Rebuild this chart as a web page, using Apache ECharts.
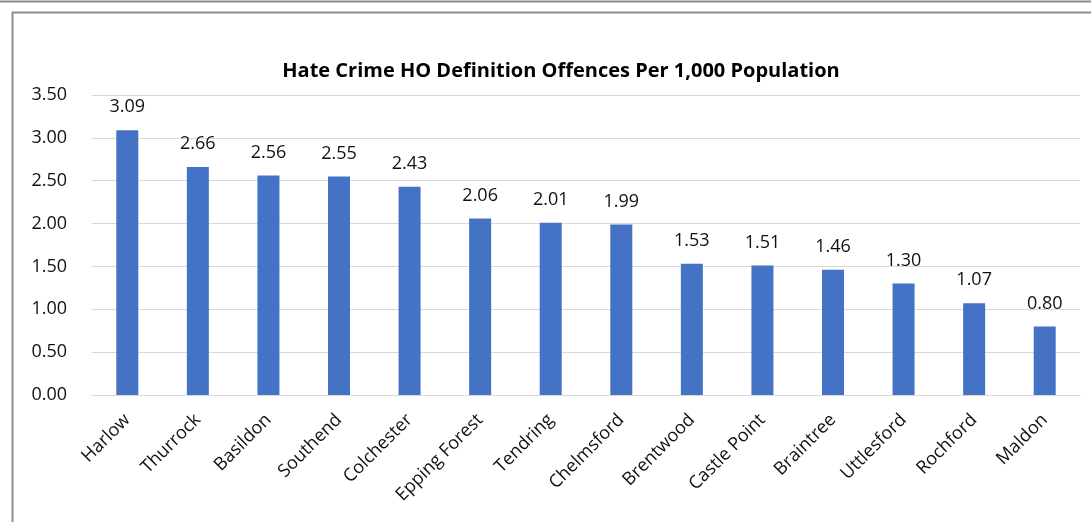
<!DOCTYPE html>
<html><head><meta charset="utf-8">
<script src="https://cdn.jsdelivr.net/npm/echarts@6/dist/echarts.min.js"></script>
<style>html,body{margin:0;padding:0;background:#fff}#c{width:1091px;height:522px}</style>
</head><body><div id="c"></div>
<script>
const titleText = 'Hate Crime HO Definition Offences Per 1,000 Population';
const categories = ['Harlow','Thurrock','Basildon','Southend','Colchester','Epping Forest','Tendring','Chelmsford','Brentwood','Castle Point','Braintree','Uttlesford','Rochford','Maldon'];
const values = [3.09,2.66,2.56,2.55,2.43,2.06,2.01,1.99,1.53,1.51,1.46,1.30,1.07,0.80];
const yTicks = {min:0, max:3.5, interval:0.5};

const font = '"Open Sans", "Noto Sans", sans-serif';
const chart = echarts.init(document.getElementById('c'));
chart.setOption({
  animation:false,
  backgroundColor:'#fff',
  title:{text:titleText,left:556,top:56,textAlign:'center',
    textStyle:{fontFamily:font,fontSize:20,fontWeight:'bold',color:'#000'}},
  graphic:[
    {type:'line',shape:{x1:0,y1:1.5,x2:1091,y2:1.5},style:{stroke:'#8c8c8c',lineWidth:2}},
    {type:'line',shape:{x1:12,y1:12.5,x2:1091,y2:12.5},style:{stroke:'#8c8c8c',lineWidth:2}},
    {type:'line',shape:{x1:12.5,y1:12,x2:12.5,y2:522},style:{stroke:'#8c8c8c',lineWidth:2}}
  ],
  grid:{left:92,right:11,top:95,bottom:127,containLabel:false},
  xAxis:{type:'category',data:categories,
    axisLine:{lineStyle:{color:'#d9d9d9',width:1}},
    axisTick:{show:false},
    axisLabel:{rotate:45,interval:0,margin:22,fontFamily:font,fontSize:18,color:'#111'}},
  yAxis:{type:'value',min:yTicks.min,max:yTicks.max,interval:yTicks.interval,
    axisLine:{show:false},axisTick:{show:false},
    splitLine:{lineStyle:{color:'#d9d9d9',width:1}},
    axisLabel:{margin:25,fontFamily:font,fontSize:18,color:'#111',formatter:v=>v.toFixed(2)}},
  series:[{type:'bar',data:values,barWidth:22,
    itemStyle:{color:'#4472C4'},
    label:{show:true,position:'top',distance:14,fontFamily:font,fontSize:18,color:'#111',
      formatter:p=>p.value.toFixed(2)}}]
});
</script></body></html>
